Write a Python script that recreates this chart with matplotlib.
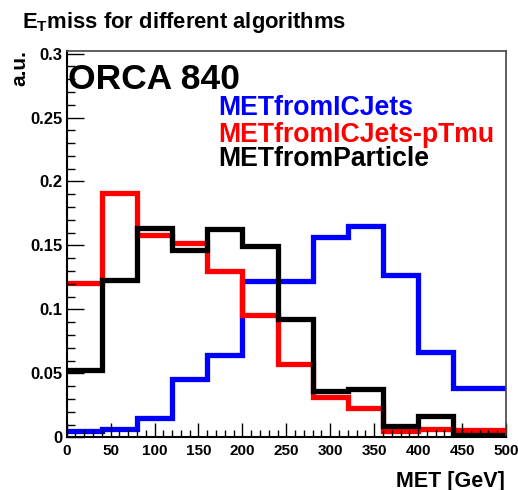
import numpy as np
import matplotlib
matplotlib.use('Agg')
import matplotlib.pyplot as plt
from matplotlib.ticker import MultipleLocator

plt.rcParams['font.family'] = 'Liberation Sans'
plt.rcParams['font.weight'] = 'bold'
plt.rcParams['mathtext.fontset'] = 'custom'
plt.rcParams['mathtext.rm'] = 'Liberation Sans:bold'
plt.rcParams['mathtext.bf'] = 'Liberation Sans:bold'

# 40 GeV bins, the last one runs past the drawn range
bin_edges = np.arange(0, 521, 40)

met_ic_jets = [0.0049, 0.0065, 0.0153, 0.0453, 0.0643, 0.1224, 0.1224,
               0.1563, 0.1650, 0.1268, 0.0664, 0.0388, 0.0388]
met_ic_jets_ptmu = [0.1208, 0.1906, 0.1580, 0.1520, 0.1300, 0.0955, 0.0570,
                    0.0317, 0.0226, 0.0049, 0.0065, 0.0060, 0.0060]
met_particle = [0.0526, 0.1230, 0.1638, 0.1463, 0.1625, 0.1495, 0.0924,
                0.0362, 0.0377, 0.0090, 0.0166, 0.0018, 0.0018]

labels = ['METfromICJets', 'METfromICJets-pTmu', 'METfromParticle']
colors = ['#0000ff', '#ff0000', '#000000']

W, H = 518, 490
fig = plt.figure(figsize=(W / 100, H / 100), dpi=100)
ax = fig.add_axes([66.7 / W, 1 - 437.3 / H, (506 - 66.7) / W, (437.3 - 51) / H])

for vals, col in zip([met_ic_jets, met_ic_jets_ptmu, met_particle], colors):
    ax.stairs(vals, bin_edges, baseline=None, color=col, lw=3.8)

ax.set_xlim(0, 500)
ax.set_ylim(0, 0.302)
ax.xaxis.set_major_locator(MultipleLocator(50))
ax.xaxis.set_minor_locator(MultipleLocator(10))
ax.yaxis.set_minor_locator(MultipleLocator(0.01))
ax.set_yticks([0, 0.05, 0.1, 0.15, 0.2, 0.25, 0.3])
ax.set_yticklabels(['0', '0.05', '0.1', '0.15', '0.2', '0.25', '0.3'])
ax.tick_params(which='both', direction='in', width=1)
ax.tick_params(axis='y', which='major', length=12, pad=3, labelsize=12)
ax.tick_params(axis='y', which='minor', length=6)
ax.tick_params(axis='x', which='major', length=10, pad=5, labelsize=11)
ax.tick_params(axis='x', which='minor', length=5)
for s in ['left', 'bottom']:
    ax.spines[s].set_linewidth(1.5)
for s in ['top', 'right']:
    ax.spines[s].set_linewidth(1.2)
    ax.spines[s].set_color('#444444')

fig.text(22 / W, 1 - 28 / H, r'E$_{\mathrm{T}}$miss for different algorithms',
         fontsize=15.8, va='baseline', ha='left')
fig.text(19.5 / W, 1 - 50 / H, 'a.u.', rotation=90, fontsize=15,
         ha='center', va='top')
fig.text(505 / W, 1 - 486.5 / H, 'MET [GeV]', fontsize=15.5,
         ha='right', va='baseline')
fig.text(67.5 / W, 1 - 89 / H, 'ORCA 840', fontsize=25.5,
         ha='left', va='baseline')

for lab, col, base in zip(labels, colors, [115, 141.7, 166]):
    fig.text(218 / W, 1 - base / H, lab, color=col, fontsize=19.2,
             ha='left', va='baseline')

fig.savefig('out.png', dpi=100, facecolor='white')
